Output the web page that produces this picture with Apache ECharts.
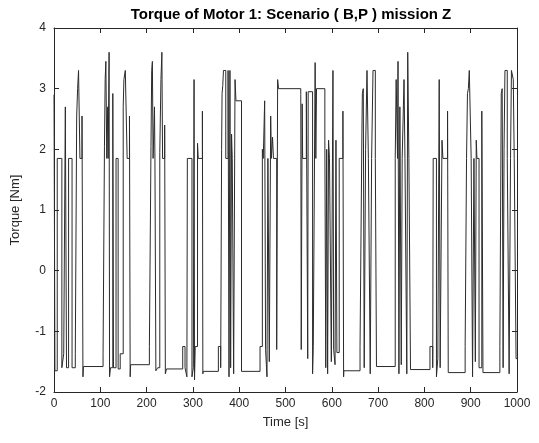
<!DOCTYPE html>
<html>
<head>
<meta charset="utf-8">
<script src="https://cdn.jsdelivr.net/npm/echarts@6/dist/echarts.min.js"></script>
<style>
  html, body { margin: 0; padding: 0; background: #fff; }
  #chart { width: 539px; height: 443px; }
</style>
</head>
<body>
<div id="chart"></div>
<script>
// step signal: torque holds each value from time[i] until time[i+1]
const timeSec = [
  0, 2, 7, 17, 21, 24.5, 27, 31.5, 39, 46, 49, 51, 53, 56, 60.5, 62.5, 63.5,
  106, 109, 110.5, 112, 114, 116, 117, 119, 120, 122, 127, 128.5, 134, 138.5, 143, 149.5, 151, 154, 158, 163, 164.5, 165.5,
  206, 209.5, 211, 212.5, 214, 217, 218, 220, 224, 228.5, 231, 233, 234.5, 239, 240.5, 243,
  278, 283, 287, 288, 298, 301, 302.5, 303.5, 305, 310, 311.5, 320.5, 321.5, 322.5,
  355, 360, 362, 363, 364.5, 366, 371, 376, 378, 380, 381.5, 383.5, 385, 388, 391, 393, 405,
  445, 450, 452, 455, 457, 460, 462, 465, 468, 469.5, 472, 474, 481, 483, 485,
  533, 534, 536, 537, 545, 548, 549, 558.5, 560, 564, 565.5, 567, 585, 587, 589, 591, 593, 595, 599, 602.5, 604, 607, 609, 611, 616, 624, 625.5, 626,
  661, 665, 666, 668, 670, 673, 676, 679, 683, 686, 689, 694, 696.5,
  737, 739, 742, 743, 745, 747, 750, 752, 756, 758, 762, 764, 766.5, 770,
  812, 818, 819, 826, 829, 832, 834, 838, 840, 850, 851.5,
  888, 891, 893, 895, 897, 901, 904, 907, 910, 912, 913.5, 918, 924, 926.5,
  963, 966, 968, 970, 972, 974, 979, 983, 986, 988, 992, 994, 998, 1000
];
const torqueNm = [
  2.9, -1.65, 1.85, -1.6, -1.37, 2.7, -1.6, 1.85, -1.6, -1.37, 2.55, 3.0, 3.3, 1.85, 2.55, -1.75, -1.58,
  -1.37, 2.05, 3.15, 3.45, 1.85, 2.7, 1.85, 3.6, -1.75, -1.6, 2.92, -1.6, 1.85, -1.62, -1.37, 2.7, 3.15, 3.3, 1.85, 2.55, -1.75, -1.55,
  -1.25, 2.05, 3.3, 3.45, 1.85, 2.7, 1.85, -1.65, -1.6, 1.95, 3.15, 3.6, 1.85, 2.4, -1.7, -1.62,
  -1.25, -1.6, -1.75, 1.85, -1.75, -1.6, 3.15, -1.8, -1.25, 2.1, 1.85, 2.63, -1.7, -1.66,
  -1.25, -1.6, 2.0, 2.92, 3.05, 3.3, 1.85, 3.3, -1.75, 3.3, -1.6, 2.25, 1.85, -1.7, 3.15, 2.8, -1.66,
  -1.25, 2.0, 1.85, 2.8, -1.3, -1.75, 1.85, -1.5, 2.55, 1.85, 2.2, 1.85, -1.3, 3.15, 3.0,
  2.9, -1.3, 2.75, 1.85, 2.95, -1.45, 2.95, -1.7, -1.25, 3.43, 1.85, 3.0, 2.15, -1.6, 2.0, -1.7, 2.15, 1.85, -1.5, 3.3, -1.3, -1.55, 2.15, -1.35, 1.85, 2.63, -1.75, -1.65,
  -1.25, 2.25, 2.92, 3.0, -1.6, 2.0, 3.3, 1.85, -1.7, 1.85, 3.3, 1.85, -1.58,
  1.85, 3.15, 1.85, 3.45, -1.7, 2.7, -1.55, 1.85, 3.15, 1.85, -1.7, 3.6, 1.85, -1.63,
  -1.25, -1.6, 1.85, -1.75, -1.45, 3.15, -1.6, 2.15, 1.85, 2.63, -1.68,
  -1.25, 1.85, 2.92, 3.0, 3.3, 1.85, -1.75, 1.85, -1.5, 2.15, 1.85, -1.6, 2.63, -1.68,
  -1.25, 2.92, 3.0, -1.6, 2.0, 3.3, 1.85, -1.7, 1.85, 3.3, 3.15, 1.85, -1.45, -1.45
];

const xTicks = [0, 100, 200, 300, 400, 500, 600, 700, 800, 900, 1000];
const yTicks = [-2, -1, 0, 1, 2, 3, 4];

// build vertical/horizontal steps: hold previous value up to each switch time
const stepData = [];
timeSec.forEach((t, i) => {
  if (i > 0) stepData.push([t, torqueNm[i - 1]]);
  stepData.push([t, torqueNm[i]]);
});

const chart = echarts.init(document.getElementById('chart'));

const axisColor = '#262626';
const font = 'Liberation Sans, Arial, sans-serif';

const option = {
  animation: false,
  backgroundColor: '#fff',
  title: {
    text: 'Torque of Motor 1: Scenario ( B,P ) mission Z',
    left: 286,
    top: 2,
    textAlign: 'center',
    textStyle: { fontFamily: font, fontSize: 15, fontWeight: 'bold', color: '#000' },
  },
  grid: { left: 54, right: 22, top: 28, bottom: 51 },
  xAxis: [
    {
      type: 'value',
      min: xTicks[0],
      max: xTicks[xTicks.length - 1],
      interval: 100,
      name: 'Time [s]',
      nameLocation: 'middle',
      nameGap: 24,
      nameTextStyle: { fontFamily: font, fontSize: 13, color: axisColor },
      axisLine: { onZero: false, lineStyle: { color: axisColor, width: 1 } },
      axisTick: { inside: true, length: 5, lineStyle: { color: axisColor } },
      axisLabel: { fontFamily: font, fontSize: 12, color: axisColor, margin: 6, formatter: v => String(v) },
      splitLine: { show: false },
    },
    {
      type: 'value',
      position: 'top',
      min: xTicks[0],
      max: xTicks[xTicks.length - 1],
      interval: 100,
      axisLine: { onZero: false, lineStyle: { color: axisColor, width: 1 } },
      axisTick: { inside: true, length: 5, lineStyle: { color: axisColor } },
      axisLabel: { show: false },
      splitLine: { show: false },
    },
  ],
  yAxis: [
    {
      type: 'value',
      min: yTicks[0],
      max: yTicks[yTicks.length - 1],
      interval: 1,
      name: 'Torque [Nm]',
      nameLocation: 'middle',
      nameGap: 32,
      nameTextStyle: { fontFamily: font, fontSize: 13, color: axisColor },
      axisLine: { show: true, onZero: false, lineStyle: { color: axisColor, width: 1 } },
      axisTick: { show: true, inside: true, length: 5, lineStyle: { color: axisColor } },
      axisLabel: { fontFamily: font, fontSize: 12, color: axisColor, margin: 8 },
      splitLine: { show: false },
    },
    {
      type: 'value',
      position: 'right',
      min: yTicks[0],
      max: yTicks[yTicks.length - 1],
      interval: 1,
      axisLine: { show: true, onZero: false, lineStyle: { color: axisColor, width: 1 } },
      axisTick: { show: true, inside: true, length: 5, lineStyle: { color: axisColor } },
      axisLabel: { show: false },
      splitLine: { show: false },
    },
  ],
  series: [
    {
      name: 'Torque',
      type: 'line',
      xAxisIndex: 0,
      yAxisIndex: 0,
      showSymbol: false,
      data: stepData,
      lineStyle: { color: '#2b2b2b', width: 1 },
    },
  ],
};

chart.setOption(option);
</script>
</body>
</html>
